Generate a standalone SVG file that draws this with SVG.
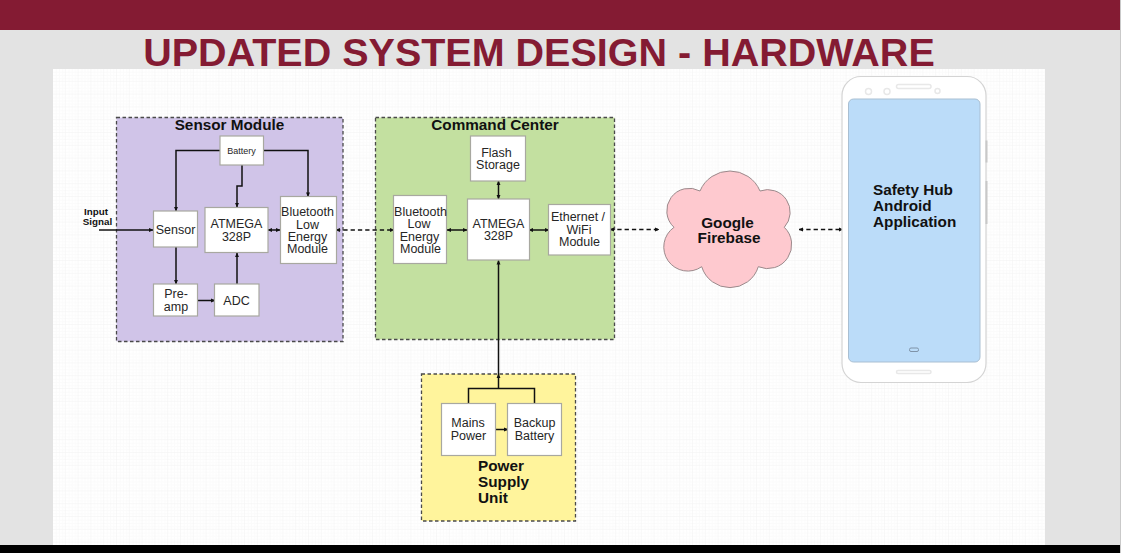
<svg xmlns="http://www.w3.org/2000/svg" width="1122" height="553" viewBox="0 0 1122 553">
<style>
text{font-family:"Liberation Sans",Arial,sans-serif;text-anchor:middle;fill:#262626}
.b{font-weight:bold;fill:#111;font-size:15.300px}
.s{text-anchor:start}
.t{font-size:12.500px}
.box{fill:#fff;stroke:#a8a8a0;stroke-width:1.200}
.grp{stroke:#4a4a4a;stroke-width:1.300;stroke-dasharray:3.500 2.500}
.l{fill:none;stroke:#111;stroke-width:1.500}
.d{fill:none;stroke:#111;stroke-width:1.500;stroke-dasharray:4.300 3}
.ph{fill:none;stroke:#e8e8e8;stroke-width:1.500}
</style>
<defs>
<pattern id="grid" width="12.800" height="12.800" patternUnits="userSpaceOnUse" x="53" y="69">
<path d="M3.200 0V12.800M6.400 0V12.800M9.600 0V12.800M0 3.200H12.800M0 6.400H12.800M0 9.600H12.800" fill="none" stroke="#fbfbfb" stroke-width="1"/>
<path d="M12.800 0V12.800H0" fill="none" stroke="#f2f2f2" stroke-width="1"/>
</pattern>
<marker id="a" viewBox="0 0 5 5" refX="4.500" refY="2.500" markerWidth="4.500" markerHeight="4.500" markerUnits="userSpaceOnUse" orient="auto-start-reverse"><path d="M0 .3L5 2.500L0 4.700Z" fill="#111"/></marker>
</defs>
<rect id="background" width="1122" height="553" fill="#e3e3e3"/>
<rect x="1120" width="1" height="553" fill="#c9c9c9"/>
<rect x="1121" width="1" height="553" fill="#fff"/>
<rect id="title-bar" width="1120" height="30" fill="#841b33"/>
<rect id="canvas" x="53" y="69" width="992" height="476" fill="#fff"/>
<rect x="53" y="69" width="992" height="476" fill="url(#grid)"/>
<rect id="bottom-bar" y="545" width="1120" height="8" fill="#000"/>
<text id="title" x="539" y="66" style="font-size:39.500px;font-weight:bold;fill:#841b33">UPDATED SYSTEM DESIGN - HARDWARE</text>

<g id="sensor-module"><rect class="grp" x="116.500" y="117.500" width="226.500" height="224" fill="#d0c4e8"/><text class="b" x="229.500" y="130">Sensor Module</text></g>
<g id="command-center"><rect class="grp" x="375.500" y="117.500" width="239" height="222" fill="#c3e0a0"/><text class="b" x="495" y="130">Command Center</text></g>
<g id="power-supply-unit"><rect class="grp" x="421.500" y="374" width="154" height="147" fill="#fff49c"/><text class="b s" x="478" y="470.500">Power</text><text class="b s" x="478" y="486.500">Supply</text><text class="b s" x="478" y="502.500">Unit</text></g>

<g id="connectors">
<path class="l" marker-end="url(#a)" d="M220 150.500H176V211"/>
<path class="l" marker-end="url(#a)" d="M263 150.500H308V196.500"/>
<path class="l" marker-end="url(#a)" d="M242 165V186H237V207"/>
<path class="l" marker-end="url(#a)" d="M99 230H153"/>
<path class="l" marker-end="url(#a)" d="M176 247V284"/>
<path class="l" marker-end="url(#a)" d="M198 300.500H215"/>
<path class="l" marker-end="url(#a)" d="M237 284V253"/>
<path class="l" marker-start="url(#a)" marker-end="url(#a)" d="M268 230H280"/>
<path class="d" marker-start="url(#a)" marker-end="url(#a)" d="M336 230H394"/>
<path class="l" marker-start="url(#a)" marker-end="url(#a)" d="M447 230H467"/>
<path class="l" marker-start="url(#a)" marker-end="url(#a)" d="M529 230H549"/>
<path class="l" marker-start="url(#a)" marker-end="url(#a)" d="M498.500 181V199"/>
<path class="d" marker-start="url(#a)" marker-end="url(#a)" d="M610 229.500H659"/>
<path class="d" marker-start="url(#a)" marker-end="url(#a)" d="M799 229.500H843"/>
<path class="l" marker-end="url(#a)" d="M498.500 374V260.500"/>
<path class="l" marker-end="url(#a)" d="M468.500 403V388.500H534.500V403M498.500 388.500V374"/>
<path class="l" marker-end="url(#a)" d="M496 429.500H508"/>
</g>

<g id="battery"><rect class="box" x="220" y="136" width="43.500" height="29"/><text x="241.500" y="153.500" font-size="9">Battery</text></g>
<g id="sensor"><rect class="box" x="153.500" y="211" width="44" height="36"/><text class="t" x="175.500" y="233.500">Sensor</text></g>
<g id="atmega-1"><rect class="box" x="205" y="207.500" width="63" height="45"/><text class="t" x="236.500" y="228">ATMEGA</text><text class="t" x="236.500" y="241">328P</text></g>
<g id="ble-1"><rect class="box" x="280.500" y="196.500" width="56" height="67"/><text class="t" x="307.500" y="216">Bluetooth</text><text class="t" x="307.500" y="228.500">Low</text><text class="t" x="307.500" y="241">Energy</text><text class="t" x="307.500" y="253">Module</text></g>
<g id="pre-amp"><rect class="box" x="153.500" y="284" width="44" height="32"/><text class="t" x="176" y="298">Pre-</text><text class="t" x="176" y="311">amp</text></g>
<g id="adc"><rect class="box" x="214.500" y="284" width="44.500" height="32"/><text class="t" x="236.500" y="305">ADC</text></g>
<g id="input-signal"><text class="b" x="96" y="215" style="font-size:9.800px">Input</text><text class="b" x="97.500" y="225" style="font-size:9.800px">Signal</text></g>

<g id="flash-storage"><rect class="box" x="470.500" y="136" width="55" height="45"/><text class="t" x="496.500" y="157">Flash</text><text class="t" x="498" y="169">Storage</text></g>
<g id="ble-2"><rect class="box" x="393.500" y="195.500" width="53" height="68"/><text class="t" x="420.500" y="216">Bluetooth</text><text class="t" x="419" y="228">Low</text><text class="t" x="419.500" y="241">Energy</text><text class="t" x="420.500" y="253">Module</text></g>
<g id="atmega-2"><rect class="box" x="467.500" y="199" width="62" height="61"/><text class="t" x="498.500" y="228">ATMEGA</text><text class="t" x="498.500" y="240">328P</text></g>
<g id="ethernet-wifi"><rect class="box" x="548.500" y="204.500" width="62" height="50.500"/><text class="t" x="578" y="221">Ethernet /</text><text class="t" x="579" y="234">WiFi</text><text class="t" x="579.500" y="246">Module</text></g>

<g id="mains-power"><rect class="box" x="441.500" y="403.500" width="54" height="52"/><text class="t" x="468" y="427">Mains</text><text class="t" x="468.500" y="440">Power</text></g>
<g id="backup-battery"><rect class="box" x="507.500" y="403.500" width="54" height="52"/><text class="t" x="534.500" y="427">Backup</text><text class="t" x="534.500" y="440">Battery</text></g>

<g id="google-firebase"><path d="M700 191A32.500 32.500 0 0 1 760 191A22.500 22.500 0 0 1 784.300 227.300A24 24 0 0 1 758.300 266.700A29.600 29.600 0 0 1 701.700 266.700A24 24 0 0 1 674 227.300A22.500 22.500 0 0 1 700 191Z" fill="#fec9cf" stroke="#9b8a8c" stroke-width="1"/><text class="b" x="727.500" y="228">Google</text><text class="b" x="729" y="243">Firebase</text></g>

<g id="phone"><rect x="842" y="76.500" width="144" height="306" rx="19" fill="#fff" stroke="#d4d4d4" stroke-width="1.200"/>
<rect x="985.500" y="140.500" width="2" height="22" fill="#c8c8c8"/><rect x="985.500" y="181" width="2" height="43" fill="#c8c8c8"/>
<rect class="ph" x="896.500" y="84.500" width="34.500" height="4" rx="2"/><circle class="ph" cx="868.500" cy="91.500" r="3"/><circle class="ph" cx="887" cy="91.500" r="3"/><circle class="ph" cx="937.500" cy="91" r="2.500"/>
<rect class="ph" x="896.500" y="370.500" width="34.500" height="3" rx="1.500"/>
<rect x="848.500" y="99" width="131.500" height="263" rx="5" fill="#bbdcf9" stroke="#a9bfd2" stroke-width="1"/>
<rect x="909.500" y="348" width="9" height="3.500" rx="1.500" fill="none" stroke="#7f93a8" stroke-width="1"/>
<text class="b s" x="873" y="195">Safety Hub</text><text class="b s" x="873" y="211">Android</text><text class="b s" x="873" y="227">Application</text></g>
</svg>
